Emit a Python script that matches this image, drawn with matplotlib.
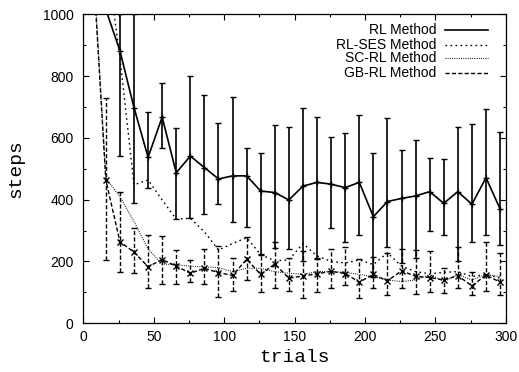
import numpy as np
import matplotlib
matplotlib.use("Agg")
import matplotlib.pyplot as plt

plt.rcParams['font.family'] = ['Liberation Sans', 'DejaVu Sans']

# trial positions of the averaged points
trials = np.array([6, 16, 26, 36, 46, 56, 66, 76, 86, 96, 106, 116, 126, 136, 146,
                   156, 166, 176, 186, 196, 206, 216, 226, 236, 246, 256, 266, 276, 286, 296])

# RL Method: mean and error bar ends
rl = np.array([1300, 1015, 882, 698, 537, 667, 487, 541, 504, 467, 477, 477, 428, 423, 399,
               444, 456, 450, 439, 456, 345, 394, 404, 412, 426, 388, 426, 385, 471, 370])
rl_hi = np.array([np.nan, np.nan, 1000, 1000, 685, 777, 633, 801, 739, 647, 733, 568, 552, 640, 636,
                  698, 669, 604, 615, 674, 552, 663, 561, 593, 534, 531, 636, 645, 692, 620])
rl_lo = np.array([np.nan, np.nan, 541, 388, 437, 568, 337, 340, 353, 385, 329, 313, 221, 243, 239,
                  200, 210, 307, 264, 286, 151, 248, 194, 210, 300, 286, 200, 264, 286, 253])

# RL-SES Method
rlses = np.array([1500, 1200, 860, 448, 464, 399, 337, 340, 296, 237, 258, 277, 222, 202, 205,
                  258, 218, 200, 195, 205, 190, 228, 185, 167, 160, 165, 167, 151, 158, 146])

# SC-RL Method
scrl = np.array([1250, 470, 410, 329, 240, 192, 189, 185, 182, 180, 167, 178, 178, 167, 162,
                 158, 167, 167, 165, 158, 151, 140, 135, 140, 158, 135, 158, 140, 158, 151])

# GB-RL Method: mean and error bar ends
gb = np.array([1230, 464, 264, 230, 183, 206, 185, 162, 178, 164, 155, 207, 158, 192, 146,
               153, 160, 168, 161, 133, 158, 137, 170, 152, 148, 140, 154, 121, 156, 133])
gb_hi = np.array([np.nan, 728, 424, 307, 286, 283, 236, 205, 240, 250, 210, 279, 225, 262, 210,
                  235, 207, 240, 248, 207, 216, 226, 240, 237, 235, 178, 248, 165, 264, 228])
gb_lo = np.array([np.nan, 205, 167, 162, 115, 126, 127, 134, 126, 86, 105, 141, 100, 115, 106,
                  81, 102, 113, 124, 81, 113, 92, 113, 95, 102, 97, 113, 92, 105, 92])

labels = ['RL Method', 'RL-SES Method', 'SC-RL Method', 'GB-RL Method']
styles = ['-', (0, (1.2, 2.4)), (0, (0.8, 1.2)), (0, (3, 1.6))]
widths = [1.2, 1.0, 0.8, 1.0]

fig = plt.figure(figsize=(5.19, 3.72), dpi=100)
ax = fig.add_axes([0.1605, 0.131, 0.8139, 0.8307])

# RL
ax.errorbar(trials, rl, yerr=[rl - rl_lo, rl_hi - rl], color='black', lw=widths[0],
            marker='+', ms=4, mew=1.0, elinewidth=1.2, capsize=2.2, capthick=1.2)
# RL-SES
ax.plot(trials, rlses, color='black', lw=widths[1], linestyle=styles[1])
# SC-RL
ax.plot(trials, scrl, color='black', lw=widths[2], linestyle=styles[2])
# GB-RL
eb = ax.errorbar(trials, gb, yerr=[gb - gb_lo, gb_hi - gb], color='black', lw=widths[3],
                 linestyle=styles[3], marker='x', ms=5, mew=1.0,
                 elinewidth=1.0, capsize=2.2, capthick=1.0)
eb[2][0].set_linestyle(styles[3])

ax.set_xlim(0, 300)
ax.set_ylim(0, 1000)
ax.set_xticks([0, 50, 100, 150, 200, 250, 300])
ax.set_xticks([25, 75, 125, 175, 225, 275], minor=True)
ax.set_yticks([0, 200, 400, 600, 800, 1000])
ax.set_yticks([100, 300, 500, 700, 900], minor=True)
ax.tick_params(which='both', direction='in', top=True, right=True, labelsize=10)
ax.tick_params(axis='y', pad=7)
ax.tick_params(axis='x', pad=5)
ax.tick_params(which='major', length=4, width=0.8)
ax.tick_params(which='minor', length=2.5, width=0.8)
for s in ax.spines.values():
    s.set_linewidth(0.9)

ax.set_xlabel('trials', family='Liberation Mono', fontsize=14)
ax.set_ylabel('steps', family='Liberation Mono', fontsize=14)
ax.xaxis.set_label_coords(0.5, -0.084)
ax.yaxis.set_label_coords(-0.14, 0.5)

# key, gnuplot style: right-aligned text with sample line to its right
rows = [0.948, 0.902, 0.857, 0.811]
for lab, st, w, yy in zip(labels, styles, widths, rows):
    ax.text(0.8366, yy, lab, transform=ax.transAxes, ha='right', va='center', fontsize=10)
    ax.plot([0.8563, 0.9574], [yy, yy], transform=ax.transAxes, color='black',
            lw=w, linestyle=st, clip_on=False)

fig.savefig('out.png', dpi=100)
